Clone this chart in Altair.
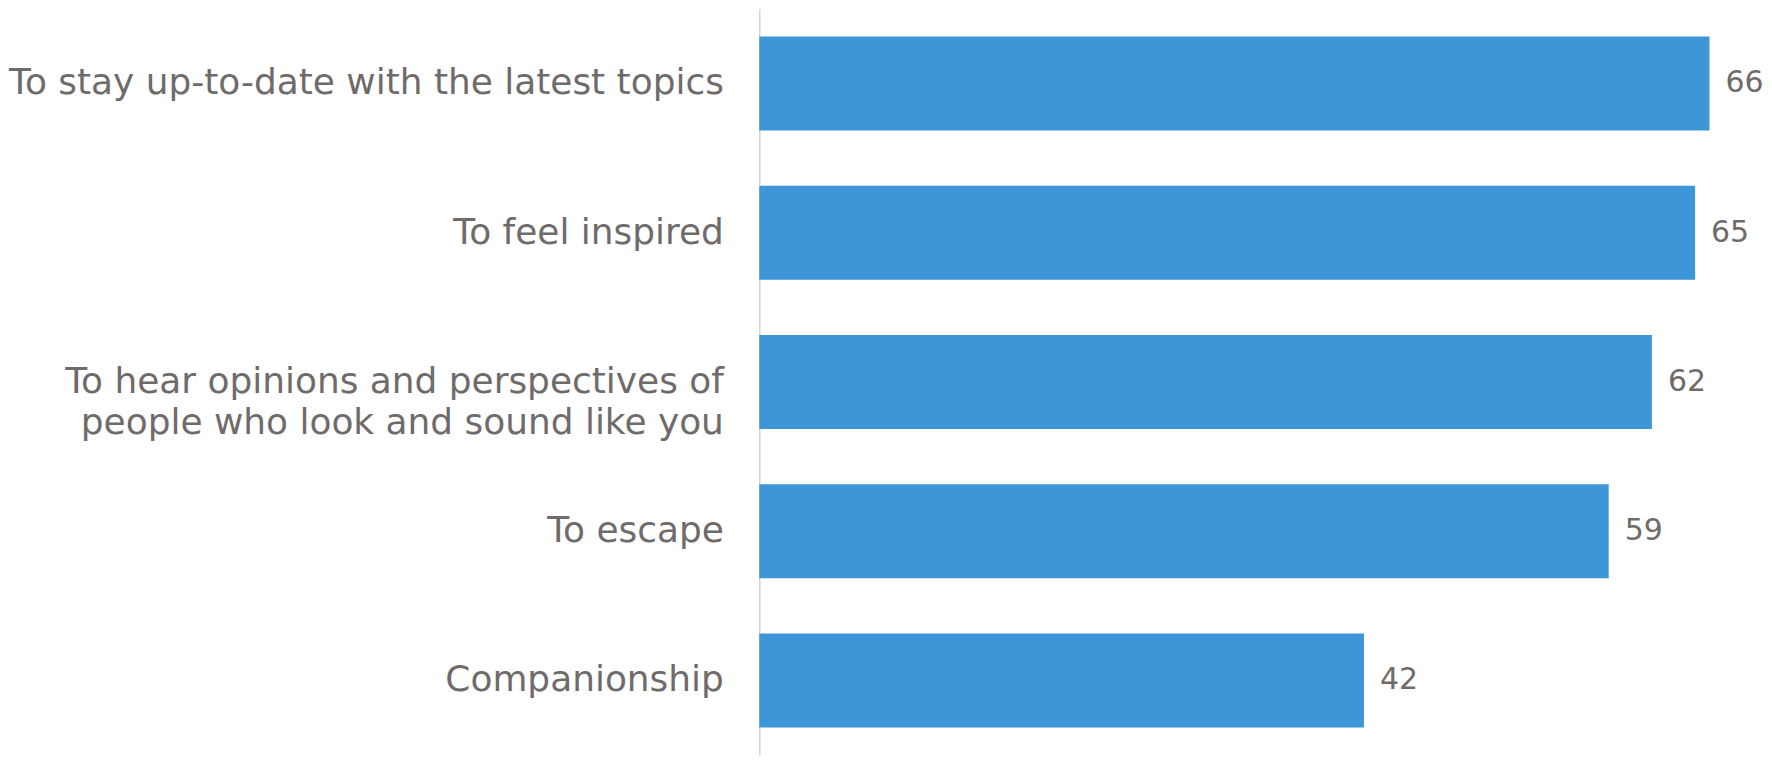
import altair as alt
import pandas as pd

categories = [
    "To stay up-to-date with the latest topics",
    "To feel inspired",
    "To hear opinions and perspectives of|people who look and sound like you",
    "To escape",
    "Companionship",
]
values = [66, 65, 62, 59, 42]

df = pd.DataFrame({"reason": categories, "pct": values})

TEXT = "#6F6B6B"
BAR = "#3C96D7"

y_enc = alt.Y(
    "reason:N",
    sort=categories,
    title=None,
    scale=alt.Scale(paddingInner=0.37, paddingOuter=0.185),
    axis=alt.Axis(
        labelExpr="split(datum.label, '|')",
        labelFont="DejaVu Sans",
        labelFontSize=36,
        labelColor=TEXT,
        labelPadding=36,
        labelLineHeight=41,
        labelLimit=900,
        ticks=False,
        domain=True,
        domainColor="#D4D4D4",
        domainWidth=1.5,
        grid=False,
    ),
)

x_enc = alt.X(
    "pct:Q",
    title=None,
    scale=alt.Scale(domain=[0, 69.3], nice=False),
    axis=None,
)

bars = alt.Chart(df).mark_bar(color=BAR).encode(x=x_enc, y=y_enc)

labels = alt.Chart(df).mark_text(
    align="left", baseline="middle", dx=16, font="DejaVu Sans", fontSize=30, color=TEXT
).encode(x=x_enc, y=y_enc, text=alt.Text("pct:Q"))

chart = (
    alt.layer(bars, labels)
    .properties(width=1000, height=748, padding={"left": 0, "top": 0, "right": 0, "bottom": 0})
    .configure_view(stroke=None)
)

chart.save("out.html", embed_options={"renderer": "svg", "actions": False})
